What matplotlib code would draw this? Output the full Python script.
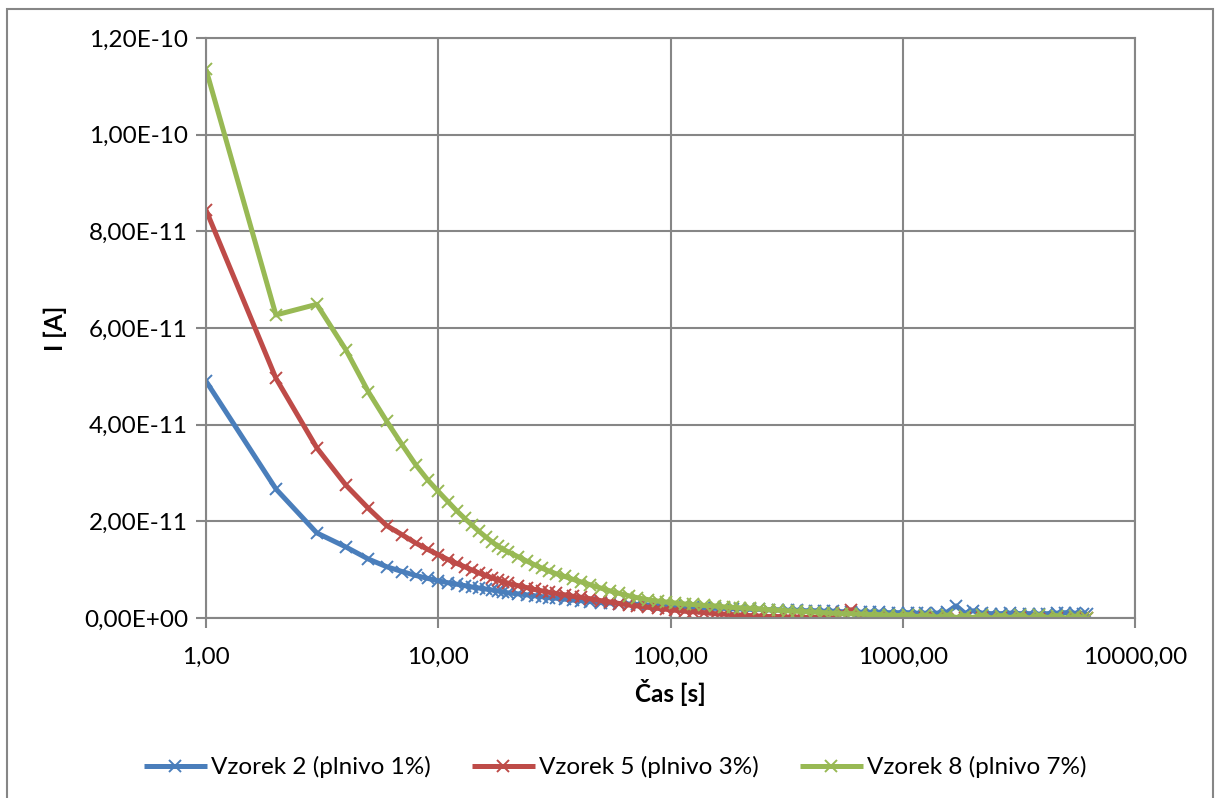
import matplotlib
matplotlib.use("Agg")
import matplotlib.pyplot as plt
from matplotlib.ticker import FuncFormatter, FixedLocator, NullLocator
from matplotlib.patches import Rectangle

plt.rcParams['font.family'] = ['Lato', 'DejaVu Sans']

# measurement times [s]
cas = [1, 2, 3, 4, 5, 6, 7, 8, 9, 10, 11, 12, 13, 14, 15, 16, 17, 18, 19, 20,
       22, 24, 26, 28, 30, 32, 35, 38, 41, 45, 50, 55, 60, 66, 72, 80, 88, 96,
       105, 115, 125, 140, 155, 170, 185, 200,
       220, 240, 265, 290, 320, 350, 385, 420, 460, 500, 550, 600, 660, 720,
       790, 870, 950, 1050, 1150, 1250, 1400, 1550, 1700, 1850, 2000,
       2200, 2400, 2650, 2900, 3200, 3500, 3850, 4200, 4600, 5000, 5500,
       6000, 6200]

# current values in units of 1e-11 A
vzorek2 = [4.90, 2.67, 1.76, 1.47, 1.22, 1.06, 0.96, 0.88, 0.82, 0.77,
           0.73, 0.70, 0.67, 0.64, 0.62, 0.60, 0.58, 0.56, 0.54, 0.52,
           0.50, 0.48, 0.46, 0.44, 0.42, 0.41, 0.39, 0.37, 0.36, 0.34,
           0.32, 0.31, 0.30, 0.29, 0.28, 0.27, 0.26, 0.25,
           0.24, 0.23, 0.22, 0.21, 0.20, 0.20, 0.19, 0.19,
           0.18, 0.18, 0.17, 0.17, 0.16, 0.16, 0.15, 0.15, 0.14, 0.14,
           0.13, 0.13, 0.12, 0.12, 0.12, 0.11, 0.11, 0.11, 0.10, 0.10,
           0.10, 0.12, 0.25, 0.10, 0.15,
           0.10, 0.09, 0.09, 0.10, 0.09, 0.09, 0.08, 0.09, 0.10, 0.11,
           0.10, 0.09, 0.08]

vzorek5 = [8.44, 4.96, 3.52, 2.75, 2.27, 1.91, 1.72, 1.55, 1.42, 1.31,
           1.21, 1.13, 1.06, 0.99, 0.93, 0.88, 0.83, 0.79, 0.75, 0.72,
           0.67, 0.63, 0.59, 0.56, 0.53, 0.51, 0.48, 0.45, 0.43, 0.40,
           0.36, 0.33, 0.30, 0.27, 0.25, 0.22, 0.20, 0.18,
           0.16, 0.14, 0.13, 0.11, 0.09, 0.08, 0.07, 0.06,
           0.05, 0.04, 0.03, 0.03, 0.02, 0.02, 0.01, 0.01, 0.01, 0.00,
           0.10, 0.17, 0.04, 0.00, -0.02, 0.00, -0.02, 0.00, -0.02, 0.00,
           0.01, -0.02, -0.01, 0.00, -0.02,
           -0.01, 0.00, 0.01, -0.02, -0.01, 0.00, -0.02, -0.01, 0.00, -0.02,
           -0.01, 0.00, -0.01]

vzorek8 = [11.35, 6.27, 6.49, 5.55, 4.68, 4.07, 3.58, 3.17, 2.86, 2.62,
           2.41, 2.22, 2.06, 1.92, 1.79, 1.68, 1.58, 1.49, 1.42, 1.37,
           1.27, 1.18, 1.10, 1.03, 0.97, 0.92, 0.86, 0.80, 0.75, 0.69,
           0.62, 0.56, 0.51, 0.46, 0.42, 0.38, 0.35, 0.33,
           0.31, 0.29, 0.28, 0.26, 0.25, 0.23, 0.22, 0.21,
           0.20, 0.19, 0.17, 0.16, 0.15, 0.14, 0.13, 0.12, 0.11, 0.10,
           0.09, 0.09, 0.08, 0.07, 0.07, 0.06, 0.05, 0.07, 0.03, 0.06,
           0.02, 0.06, 0.01, 0.05, 0.01,
           0.06, 0.00, 0.05, 0.01, 0.06, 0.00, 0.06, 0.01, 0.05, 0.00,
           0.04, 0.01, 0.00]

nazvy = ["Vzorek 2 (plnivo 1%)", "Vzorek 5 (plnivo 3%)", "Vzorek 8 (plnivo 7%)"]
barvy = ["#4A7EBB", "#BE4B48", "#98B954"]

y_ticks = [0, 2e-11, 4e-11, 6e-11, 8e-11, 1e-10, 1.2e-10]
x_ticks = [1, 10, 100, 1000, 10000]

GRID = "#868686"
FS = 17.5

fig = plt.figure(figsize=(12.25, 7.98), dpi=100)
ax = fig.add_axes([206 / 1225, 1 - 618 / 798, (1135 - 206) / 1225, (618 - 38) / 798])

for vals, name, col in zip([vzorek2, vzorek5, vzorek8], nazvy, barvy):
    ax.plot(cas, [v * 1e-11 for v in vals], color=col, lw=3.6,
            marker="x", markersize=8.5, markeredgewidth=1.4,
            label=name, solid_joinstyle="round", solid_capstyle="butt")

ax.set_xscale("log")
ax.set_xlim(1, 10000)
ax.set_ylim(0, 1.2e-10)
ax.xaxis.set_major_locator(FixedLocator(x_ticks))
ax.xaxis.set_minor_locator(NullLocator())
ax.yaxis.set_major_locator(FixedLocator(y_ticks))
ax.xaxis.set_major_formatter(FuncFormatter(lambda v, p: f"{v:.2f}".replace(".", ",")))
ax.yaxis.set_major_formatter(FuncFormatter(lambda v, p: f"{v:.2E}".replace(".", ",")))

ax.grid(True, color=GRID, lw=1.5)
ax.set_axisbelow(True)
for s in ax.spines.values():
    s.set_color(GRID)
    s.set_linewidth(1.5)
ax.tick_params(axis="both", direction="out", length=7, width=1.5, color=GRID,
               labelsize=FS, labelcolor="black")
ax.tick_params(axis="y", pad=6)
ax.tick_params(axis="x", pad=14)

ax.set_xlabel("Čas [s]", fontsize=FS, fontweight="bold", labelpad=8)
ax.set_ylabel("I [A]", fontsize=FS, fontweight="bold", labelpad=12)

fig.legend(loc="center", bbox_to_anchor=(0.502, 1 - 767 / 798), ncol=3,
           frameon=False, fontsize=FS, handlelength=2.6, handletextpad=0.15,
           columnspacing=1.7)

fig.add_artist(Rectangle((7 / 1225, -0.02), (1213 - 7) / 1225, 1.02 - 9 / 798,
                         transform=fig.transFigure, fill=False,
                         edgecolor=GRID, lw=1.5))

fig.savefig("out.png", dpi=100, facecolor="white")
